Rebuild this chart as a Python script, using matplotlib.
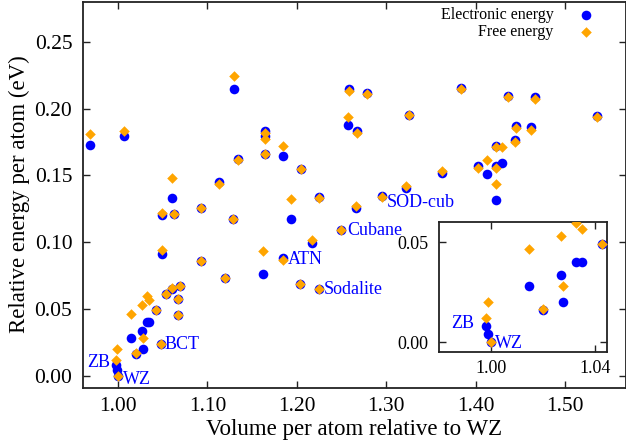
import matplotlib
matplotlib.use("Agg")
import matplotlib.pyplot as plt

plt.rcParams['font.family'] = ['Liberation Serif', 'DejaVu Serif']
plt.rcParams['mathtext.fontset'] = 'stix'

# volume per atom relative to WZ, electronic and free energy (eV/atom)
volume = [0.9687, 1.0067, 1.1300, 1.0604, 1.1130, 1.1346, 1.1644, 1.1644, 1.1644,
          1.1842, 1.2047, 1.2584, 1.2789, 1.2576, 1.2677, 1.3255, 1.3833, 1.4362,
          1.4664, 1.5354, 1.4455, 1.4618, 1.4437, 1.4225, 1.4295, 1.4124, 1.4023,
          1.4225, 1.4225, 1.3624, 1.3221, 1.2248, 1.2957, 1.1932, 1.2662, 1.0488,
          1.0626, 1.0925, 1.1290, 1.0488, 1.0925, 1.1626, 1.1850, 1.1197, 1.2174,
          1.2494, 1.2036, 1.2248, 1.0533, 1.0608, 1.0694, 1.0675, 1.0675, 1.0427,
          1.0477, 1.0326, 1.0349, 1.0268, 1.0278, 1.0199, 1.0147, 0.9981, 0.9990,
          1.0000]
e_elec = [0.1727, 0.1794, 0.2150, 0.1334, 0.1449, 0.1624, 0.1832, 0.1794, 0.1659,
          0.1644, 0.1547, 0.2150, 0.2117, 0.1882, 0.1837, 0.1952, 0.2156, 0.2097,
          0.2090, 0.1947, 0.1872, 0.1860, 0.1764, 0.1722, 0.1594, 0.1509, 0.1571,
          0.1572, 0.1314, 0.1516, 0.1409, 0.1339, 0.1344, 0.1171, 0.1259, 0.1206,
          0.1214, 0.1259, 0.1171, 0.0913, 0.0858, 0.0763, 0.0878, 0.0731, 0.0993,
          0.1094, 0.0683, 0.0651, 0.0613, 0.0652, 0.0668, 0.0573, 0.0453, 0.0490,
          0.0235, 0.0402, 0.0402, 0.0335, 0.0200, 0.0162, 0.0282, 0.0080, 0.0038,
          0.0000]
e_free = [0.1810, 0.1834, 0.2245, 0.1484, 0.1434, 0.1614, 0.1817, 0.1774, 0.1659,
          0.1724, 0.1547, 0.2135, 0.2110, 0.1939, 0.1822, 0.1952, 0.2146, 0.2085,
          0.2070, 0.1939, 0.1857, 0.1839, 0.1752, 0.1714, 0.1710, 0.1619, 0.1559,
          0.1559, 0.1439, 0.1534, 0.1419, 0.1334, 0.1339, 0.1327, 0.1269, 0.1219,
          0.1214, 0.1259, 0.1171, 0.0943, 0.0858, 0.0933, 0.0863, 0.0731, 0.1019,
          0.1094, 0.0683, 0.0651, 0.0613, 0.0658, 0.0673, 0.0573, 0.0453, 0.0490,
          0.0238, 0.0597, 0.0563, 0.0532, 0.0282, 0.0167, 0.0463, 0.0118, 0.0198,
          0.0000]

# named structures: (name, index into the arrays, offset in pixels, alignment)
labels = [("ZB", 61, (-6, 2), 'right'), ("WZ", 63, (5, -4), 'left'),
          ("BCT", 54, (4, 0), 'left'), ("ATN", 42, (4, -1), 'left'),
          ("Cubane", 45, (6, -1), 'left'), ("Sodalite", 47, (5, -1), 'left'),
          ("SOD-cub", 32, (4, -6), 'left')]
inset_labels = [("ZB", 61, (-12, 3), 'right'), ("WZ", 63, (4, -1), 'left')]

blue = '#0000ff'
orange = '#ffa500'
spine_col = '#222222'
s_circ, s_diam = 48, 29


def style_axes(ax, size, pad_x, pad_y):
    ax.tick_params(direction='in', top=True, right=True, length=5, width=1,
                   color=spine_col, labelsize=size)
    ax.tick_params(axis='x', pad=pad_x)
    ax.tick_params(axis='y', pad=pad_y)
    for s in ax.spines.values():
        s.set_color(spine_col)
        s.set_linewidth(1.3)


fig = plt.figure(figsize=(6.26, 4.47), dpi=100)
ax = fig.add_axes([0.1321, 0.1331, 0.8679, 0.8631])

ax.scatter(volume, e_elec, s=s_circ, marker='o', color=blue, linewidths=0,
           label='Electronic energy', zorder=3)
ax.scatter(volume, e_free, s=s_diam, marker='D', color=orange, linewidths=0,
           label='Free energy', zorder=4)

for name, i, off, ha in labels:
    ax.annotate(name, (volume[i], e_elec[i]), xytext=off, textcoords='offset pixels',
                ha=ha, va='center', color=blue, fontsize=13, zorder=5)

ax.set_xlim(0.9605, 1.568)
ax.set_ylim(-0.009, 0.2803)
ax.set_xticks([1.0, 1.1, 1.2, 1.3, 1.4, 1.5])
ax.set_xticklabels(['1.00', '1.10', '1.20', '1.30', '1.40', '1.50'])
ax.set_yticks([0.0, 0.05, 0.10, 0.15, 0.20, 0.25])
ax.set_yticklabels(['0.00', '0.05', '0.10', '0.15', '0.20', '0.25'])
style_axes(ax, 15.5, 7, 7.5)
ax.set_xlabel('Volume per atom relative to WZ', fontsize=16.5, labelpad=2)
ax.set_ylabel('Relative energy per atom (eV)', fontsize=16.5, labelpad=3)

ax.legend(loc='upper right', bbox_to_anchor=(0.955, 0.985), frameon=False,
          markerfirst=False, fontsize=11.5, handlelength=2, handletextpad=1.0,
          borderpad=0, borderaxespad=0, labelspacing=0.05, scatterpoints=1)

# inset zoom near WZ
axin = fig.add_axes([0.7013, 0.2125, 0.2684, 0.2908])
axin.scatter(volume, e_elec, s=s_circ, marker='o', color=blue, linewidths=0, zorder=3)
axin.scatter(volume, e_free, s=s_diam, marker='D', color=orange, linewidths=0, zorder=4)
for name, i, off, ha in inset_labels:
    axin.annotate(name, (volume[i], e_elec[i]), xytext=off, textcoords='offset pixels',
                  ha=ha, va='center', color=blue, fontsize=13, zorder=5)
axin.set_xlim(0.98, 1.0446)
axin.set_ylim(-0.005, 0.06)
axin.set_xticks([1.0, 1.04])
axin.set_xticklabels(['1.00', '1.04'])
axin.set_yticks([0.0, 0.05])
axin.set_yticklabels(['0.00', '0.05'])
style_axes(axin, 13, 6, 7.5)

fig.savefig('out.png', dpi=100)
